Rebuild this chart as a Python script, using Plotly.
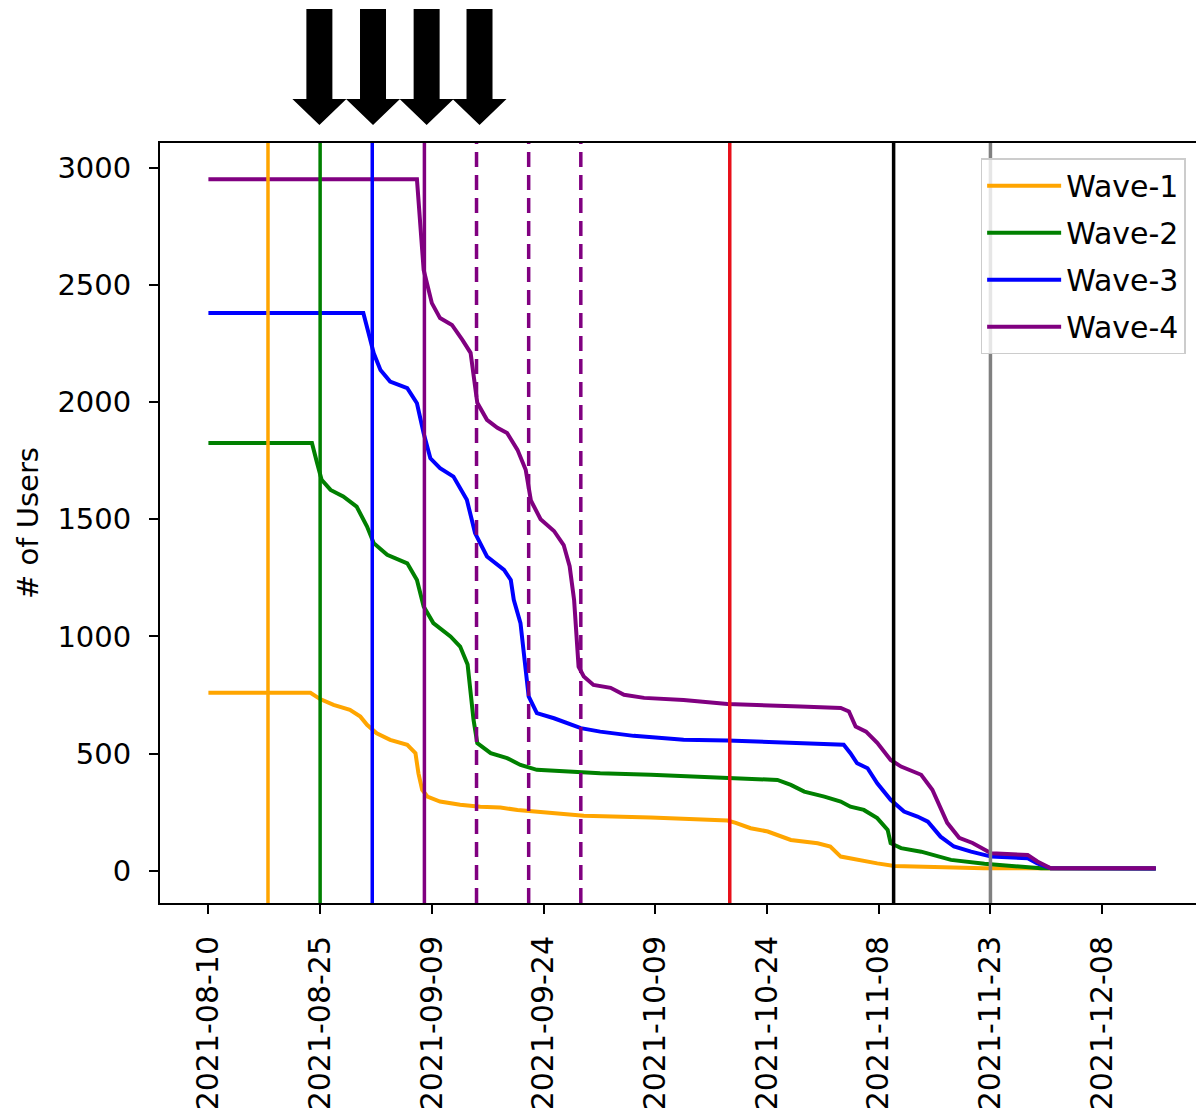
import pandas as pd
import plotly.graph_objects as go

START = pd.Timestamp("2021-08-10")

# Day offsets (from START) and remaining users for each wave
w1_day = [0, 13.7, 15.0, 16.8, 19.0, 20.4, 21.3, 22.6, 24.4, 26.7,
          27.8, 28.2, 28.7, 29.4, 31.1, 33.8, 36.5, 39.2, 41.5, 45.9,
          50.4, 59.4, 66.1, 69.7, 70.8, 72.8, 75.1, 78.2, 81.8, 83.5,
          84.9, 87.1, 89.8, 92.1, 104.1, 127.2]
w1_users = [760, 760, 733, 708, 687, 658, 623, 587, 559, 538,
            502, 416, 346, 317, 296, 282, 274, 270, 260, 246,
            235, 228, 220, 215, 205, 182, 168, 132, 118, 104,
            61, 47, 32, 21, 11, 10]

w2_day = [0, 13.9, 14.6, 15.2, 16.4, 18.1, 19.9, 21.3, 22.2, 24.0,
          26.7, 28.0, 28.9, 30.2, 32.5, 33.8, 34.8, 35.2, 35.6, 36.1,
          37.9, 40.1, 41.9, 44.1, 47.3, 52.6, 59.4, 69.7, 76.4, 78.2,
          80.0, 82.7, 84.9, 86.2, 88.0, 89.8, 91.2, 91.6, 93.0, 95.7,
          99.7, 104.2, 108.7, 111.8, 127.2]
w2_users = [1825, 1825, 1739, 1668, 1625, 1597, 1554, 1469, 1398, 1348,
            1312, 1241, 1128, 1057, 1000, 957, 880, 770, 644, 545,
            502, 481, 452, 431, 424, 416, 410, 398, 388, 367,
            338, 317, 296, 274, 260, 225, 175, 118, 97, 82,
            47, 30, 18, 11, 10]

w3_day = [0, 20.8, 21.5, 22.2, 23.1, 24.4, 26.7, 28.0, 28.9, 29.8,
          31.1, 32.9, 34.7, 35.8, 37.4, 39.7, 40.6, 41.0, 41.9, 42.6,
          43.0, 44.1, 46.4, 50.0, 52.6, 57.1, 63.8, 69.7, 79.5, 85.3,
          86.2, 87.1, 88.5, 89.8, 91.6, 93.4, 95.2, 96.6, 98.3, 100.1,
          102.4, 105.1, 110.0, 111.3, 113.1, 127.2]
w3_users = [2380, 2380, 2294, 2208, 2137, 2087, 2059, 1995, 1867, 1760,
            1718, 1682, 1583, 1441, 1341, 1284, 1241, 1156, 1057, 872,
            744, 673, 651, 609, 594, 576, 559, 556, 547, 538,
            502, 459, 438, 374, 303, 253, 232, 210, 146, 104,
            82, 61, 54, 32, 11, 10]

w4_day = [0, 28.0, 28.9, 30.0, 31.1, 32.7, 34.1, 35.2, 36.1, 37.4,
          38.8, 40.1, 41.5, 42.6, 43.3, 44.6, 46.4, 47.7, 48.5, 49.1,
          49.7, 50.4, 51.7, 54.0, 55.8, 58.5, 63.8, 69.7, 79.5, 84.9,
          86.0, 86.9, 88.3, 89.8, 91.6, 93.0, 95.7, 97.2, 99.2, 100.8,
          102.6, 104.1, 105.1, 110.0, 111.3, 113.1, 127.2]
w4_users = [2950, 2950, 2564, 2422, 2358, 2329, 2265, 2210, 1997, 1924,
            1890, 1868, 1796, 1711, 1580, 1500, 1450, 1390, 1300, 1156,
            871, 829, 793, 781, 751, 738, 729, 712, 701, 695,
            680, 616, 594, 546, 473, 445, 410, 346, 205, 141,
            119, 90, 75, 68, 40, 11, 11]

wave_names = ["Wave-1", "Wave-2", "Wave-3", "Wave-4"]
wave_colors = ["#FFA500", "#008000", "#0000FF", "#800080"]

# Event markers (day offsets) drawn as vertical lines
event_day = [8, 15, 22, 29, 36, 43, 50, 70, 92, 105]
event_color = ["#FFA500", "#008000", "#0000FF", "#800080", "#800080",
               "#800080", "#800080", "#E8101A", "#000000", "#808080"]
event_dash = ["solid", "solid", "solid", "solid", "15px,8px",
              "15px,8px", "15px,8px", "solid", "solid", "solid"]

# Day offsets of the arrows above the plot
arrow_day = [14.9, 22.1, 29.3, 36.4]

X_LO, X_HI = -6.5, 132.6
Y_LO, Y_HI = -137, 3105
FONT = "DejaVu Sans"


def to_date(days):
    return START + pd.to_timedelta(days, unit="D")


fig = go.Figure()

series = [(w1_day, w1_users), (w2_day, w2_users), (w3_day, w3_users), (w4_day, w4_users)]
for (days, users), name, color in zip(series, wave_names, wave_colors):
    fig.add_trace(go.Scatter(
        x=to_date(pd.Series(days)), y=users, mode="lines", name=name,
        legendgroup=name, line=dict(color=color, width=4),
    ))

shapes = []
for d, c, dash in zip(event_day, event_color, event_dash):
    xd = to_date(d)
    shapes.append(dict(type="line", xref="x", yref="paper", x0=xd, x1=xd,
                       y0=0, y1=1, line=dict(color=c, width=3.5, dash=dash),
                       layer="above"))

# Block arrows above the axes, positioned on the date scale
arrow_path = "M-13,44 L-13,134 L13,134 L13,44 L27,44 L0,18 L-27,44 Z"
for d in arrow_day:
    xp = (d - X_LO) / (X_HI - X_LO)
    shapes.append(dict(type="path", xref="paper", yref="paper",
                       xsizemode="pixel", ysizemode="pixel",
                       xanchor=xp, yanchor=1, path=arrow_path,
                       fillcolor="#000000", line=dict(width=0)))

fig.update_layout(
    width=1196, height=1113,
    margin=dict(l=160, r=0, t=143, b=210),
    paper_bgcolor="white", plot_bgcolor="white",
    font=dict(family=FONT, size=29, color="#000000"),
    shapes=shapes,
    showlegend=True,
    legend=dict(
        x=0.99, y=0.980, xanchor="right", yanchor="top",
        bgcolor="rgba(255,255,255,0.8)", bordercolor="#cccccc", borderwidth=1.5,
        font=dict(family=FONT, size=30, color="#000000"),
        tracegroupgap=5, itemwidth=74,
    ),
    xaxis=dict(
        type="date", range=[to_date(X_LO), to_date(X_HI)],
        tick0=START, dtick=15 * 86400000, tickformat="%Y-%m-%d",
        tickangle=-90, ticks="outside", ticklen=9, tickwidth=2, tickcolor="#000",
        showline=True, linecolor="#000", linewidth=2, mirror=True,
        showgrid=False, zeroline=False, automargin=False,
        tickfont=dict(family=FONT, size=30, color="#000"),
        ticklabelstandoff=10,
    ),
    yaxis=dict(
        range=[Y_LO, Y_HI], tick0=0, dtick=500,
        ticks="outside", ticklen=9, tickwidth=2, tickcolor="#000",
        showline=True, linecolor="#000", linewidth=2, mirror=False,
        showgrid=False, zeroline=False, automargin=False,
        tickfont=dict(family=FONT, size=29, color="#000"),
        ticklabelstandoff=12,
        title=dict(text="# of Users", font=dict(family=FONT, size=29, color="#000"),
                   standoff=10),
    ),
)

fig.write_html("out.html")
